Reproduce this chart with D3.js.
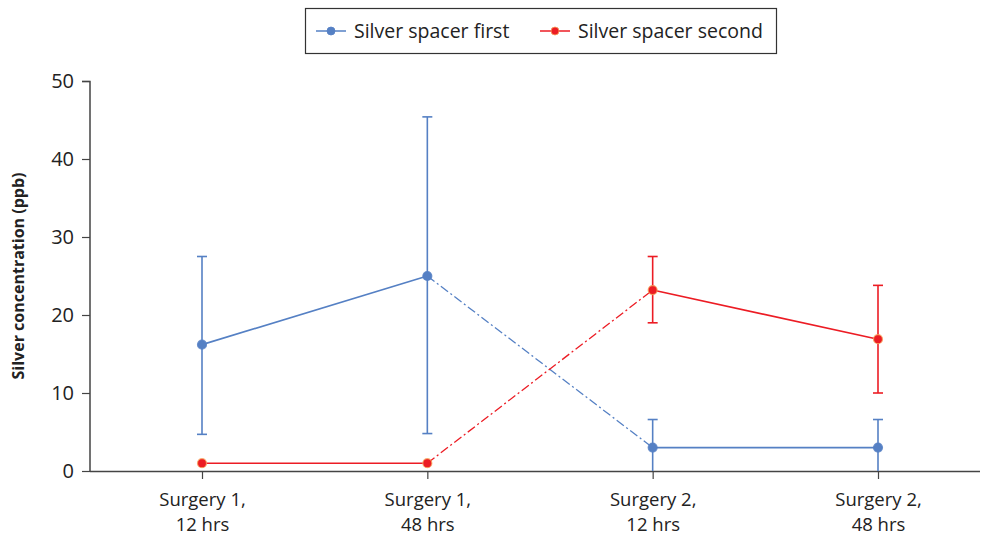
<html lang="en">
<head>
<meta charset="UTF-8">
<title>Silver concentration</title>
<script src="https://cdn.jsdelivr.net/npm/d3@7"></script>
<style>
  body { margin: 0; background: #fff; }
  svg text { font-family: "Open Sans", "Noto Sans", sans-serif; fill: #222; }
</style>
</head>
<body>
<svg id="chart"></svg>
<script>
// data
var categories = ["Surgery 1,\n12 hrs", "Surgery 1,\n48 hrs", "Surgery 2,\n12 hrs", "Surgery 2,\n48 hrs"];
var firstMean = [16.2, 25.0, 3.0, 3.0];
var firstLow  = [4.7, 4.8, 0, 0];
var firstHigh = [27.5, 45.4, 6.6, 6.6];
var secondMean = [1.0, 1.0, 23.2, 16.9];
var secondLow  = [1.0, 1.0, 19.0, 10.0];
var secondHigh = [1.0, 1.0, 27.5, 23.8];
var yTicks = [0, 10, 20, 30, 40, 50];

var W = 981, H = 536;
var margin = {top: 81, right: 1, bottom: 65, left: 90};
var width = W - margin.left - margin.right,
    height = H - margin.top - margin.bottom;

var svg = d3.select("#chart").attr("width", W).attr("height", H);
var g = svg.append("g").attr("transform", "translate(" + margin.left + "," + margin.top + ")");

var x = d3.scalePoint().domain(d3.range(categories.length)).range([112, 788]);
var y = d3.scaleLinear().domain([0, 50]).range([height, 0]);

var series = [
  {name: "Silver spacer first", color: "#5580c4", halo: "#5580c4", mean: firstMean, lo: firstLow, hi: firstHigh},
  {name: "Silver spacer second", color: "#ec1c24", halo: "#f7a35c", mean: secondMean, lo: secondLow, hi: secondHigh}
];

// axes
var yAxis = g.append("g").call(d3.axisLeft(y).tickValues(yTicks).tickSize(8).tickPadding(8));
var xAxis = g.append("g").attr("transform", "translate(0," + height + ")")
  .call(d3.axisBottom(x).tickSize(8).tickFormat(""));
[yAxis, xAxis].forEach(function (a) {
  a.select(".domain").attr("stroke", "#444").attr("stroke-width", 1.5);
  a.selectAll(".tick line").attr("stroke", "#444").attr("stroke-width", 1.2);
});
yAxis.select(".domain").attr("d", "M0," + (height + 0.5) + "V0.5H-8");
xAxis.select(".domain").attr("d", "M0,0.5H" + width);
yAxis.selectAll(".tick text").style("font-size", "20px").attr("fill", "#222");

// two-line category labels, one text per line
xAxis.selectAll(".tick").each(function (d) {
  var tk = d3.select(this);
  categories[d].split("\n").forEach(function (s, i) {
    tk.append("text").attr("text-anchor", "middle")
      .style("font-size", "18.5px").attr("fill", "#222")
      .attr("x", 0).attr("y", 35 + i * 25).text(s);
  });
});

g.append("text")
  .attr("transform", "translate(-66," + (height / 2) + ") rotate(-90)")
  .attr("text-anchor", "middle")
  .style("font-size", "16px").style("font-weight", "bold")
  .text("Silver concentration (ppb)");

// series
var line = d3.line().x(function (d) { return x(d[0]); }).y(function (d) { return y(d[1]); });
series.forEach(function (s) {
  var pts = s.mean.map(function (v, i) { return [i, v]; });
  // solid within a surgery, dash-dot between surgeries
  g.append("path").attr("d", line(pts.slice(0, 2))).attr("fill", "none")
    .attr("stroke", s.color).attr("stroke-width", 1.6);
  g.append("path").attr("d", line(pts.slice(2, 4))).attr("fill", "none")
    .attr("stroke", s.color).attr("stroke-width", 1.6);
  g.append("path").attr("d", line(pts.slice(1, 3))).attr("fill", "none")
    .attr("stroke", s.color).attr("stroke-width", 1.3).attr("stroke-dasharray", "9,3,2,3");

  // error bars
  s.mean.forEach(function (v, i) {
    if (s.hi[i] === s.lo[i]) return;
    var eb = g.append("g").attr("stroke", s.color).attr("stroke-width", 1.6);
    eb.append("line").attr("x1", x(i)).attr("x2", x(i)).attr("y1", y(s.lo[i])).attr("y2", y(s.hi[i]));
    eb.append("line").attr("x1", x(i) - 5).attr("x2", x(i) + 5).attr("y1", y(s.hi[i])).attr("y2", y(s.hi[i]));
    if (s.lo[i] > 0)
      eb.append("line").attr("x1", x(i) - 5).attr("x2", x(i) + 5).attr("y1", y(s.lo[i])).attr("y2", y(s.lo[i]));
  });

  g.selectAll(null).data(pts).enter().append("circle")
    .attr("cx", function (d) { return x(d[0]); })
    .attr("cy", function (d) { return y(d[1]); })
    .attr("r", 4.5)
    .attr("fill", s.color)
    .attr("stroke", s.halo).attr("stroke-opacity", 0.8).attr("stroke-width", 1.2);
});

// legend
var lg = svg.append("g");
lg.append("rect").attr("x", 305.5).attr("y", 8.5).attr("width", 471).attr("height", 45)
  .attr("fill", "#fff").attr("stroke", "#333").attr("stroke-width", 1.2);
var lx = [316, 540];
series.forEach(function (s, i) {
  var it = lg.append("g").attr("transform", "translate(" + lx[i] + ",31)");
  it.append("line").attr("x1", 0).attr("x2", 30).attr("stroke", s.color).attr("stroke-width", 1.5);
  it.append("circle").attr("cx", 15).attr("r", 4).attr("fill", s.color)
    .attr("stroke", s.halo).attr("stroke-opacity", 0.8).attr("stroke-width", 1);
  it.append("text").attr("x", 38).attr("y", 7).style("font-size", "19.5px").text(s.name);
});
</script>
</body>
</html>
